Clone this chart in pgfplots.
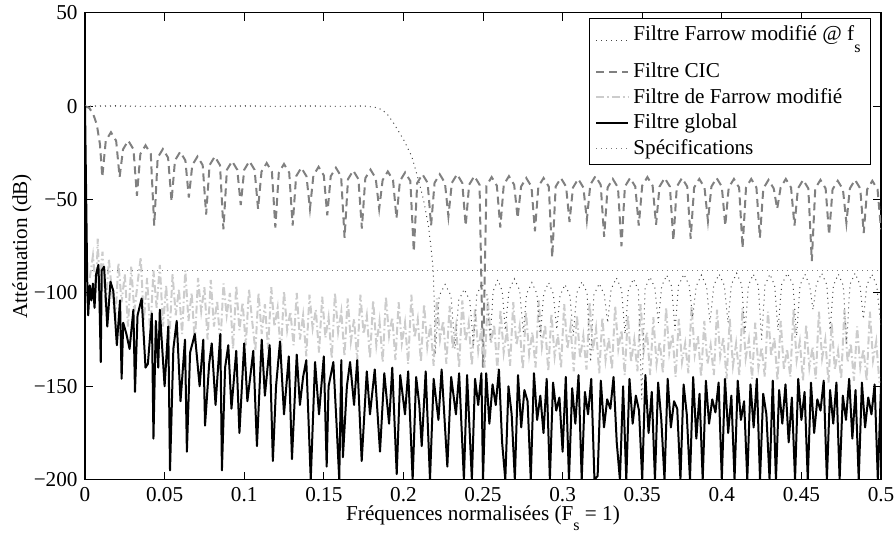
\documentclass[border=0pt]{standalone}
\usepackage{fontspec}
\setmainfont{Liberation Serif}
\usepackage{pgfplots}
\pgfplotsset{compat=1.18}
\definecolor{cicgray}{RGB}{128,128,128}
\definecolor{farlight}{RGB}{204,204,204}
\definecolor{fsgray}{RGB}{70,70,70}
\definecolor{specgray}{RGB}{120,120,120}
\tikzset{
 fsstyle/.style={color=fsgray, dotted, line width=0.5pt},
 specstyle/.style={color=specgray, dotted, line width=0.5pt},
 cicstyle/.style={color=cicgray, line width=1pt, dash pattern=on 4pt off 2.5pt},
 farstyle/.style={color=farlight, line width=1pt, dash pattern=on 4pt off 1.5pt on 0.8pt off 1.5pt},
 globalstyle/.style={color=black, line width=1pt, line join=round},
}
\begin{document}
\fontsize{10.6}{12.7}\selectfont
\begin{tikzpicture}
\begin{axis}[name=ax, scale only axis, width=398pt, height=233.5pt,
 xmin=0, xmax=0.5, ymin=-200, ymax=50,
 xtick={0,0.05,0.1,0.15,0.2,0.25,0.3,0.35,0.4,0.45,0.5},
 xticklabels={0,0.05,0.1,0.15,0.2,0.25,0.3,0.35,0.4,0.45,0.5},
 ytick={-200,-150,-100,-50,0,50},
 yticklabels={−200,−150,−100,−50,0,50},
 tick align=inside, major tick length=4pt,
 axis line style={line width=0.6pt},
 every tick/.style={black, line width=0.5pt},
 xlabel={Fréquences normalisées (F\raisebox{-5pt}{\footnotesize s} = 1)},
 ylabel={Atténuation (dB)},
 xlabel style={at={(axis description cs:0.5,0)}, anchor=base, yshift=-20.5pt},
 ylabel style={at={(axis description cs:-0.0791,0.5)}, anchor=center},
 legend image code/.code={\draw[#1] (0pt,0pt) -- (16pt,0pt);},
 legend cell align=left,
 legend style={at={(0.9874,0.9893)}, anchor=north east, draw=black, line width=0.5pt, fill=white,
   font=\fontsize{10.6}{12.7}\selectfont, inner xsep=3pt, inner ysep=1.5pt, row sep=-0.2pt},
]
% Filtre CIC
\addplot[cicstyle, forget plot] coordinates {
(0,0) (0.0027,-1) (0.0052,-4.4) (0.0074,-9.8) (0.0094,-20.5)
(0.01087,-38) (0.01304,-18.6) (0.01630,-14) (0.01957,-18.6)
(0.02174,-38) (0.02391,-23.1) (0.02717,-18.5) (0.03044,-23.1)
(0.03261,-48) (0.03478,-25.6) (0.03804,-21) (0.04131,-25.6)
(0.04348,-64) (0.04565,-27.6) (0.04891,-23) (0.05218,-27.6)
(0.05435,-51) (0.05652,-29.1) (0.05978,-24.5) (0.06305,-29.1)
(0.06522,-49) (0.06739,-31.6) (0.07065,-27) (0.07392,-31.6)
(0.07609,-58) (0.07826,-31.6) (0.08152,-27) (0.08479,-31.6)
(0.08696,-66) (0.08913,-34.1) (0.09239,-29.5) (0.09566,-34.1)
(0.09783,-53) (0.10000,-34.1) (0.10326,-29.5) (0.10653,-34.1)
(0.10870,-55) (0.11087,-35.1) (0.11413,-30.5) (0.11740,-35.1)
(0.11957,-65) (0.12174,-35.6) (0.12500,-31) (0.12827,-35.6)
(0.13043,-64) (0.13260,-37.6) (0.13586,-33) (0.13913,-37.6)
(0.14130,-55) (0.14347,-37.1) (0.14673,-32.5) (0.15000,-37.1)
(0.15217,-58.5) (0.15434,-37.6) (0.15760,-33) (0.16087,-37.6)
(0.16304,-70.5) (0.16521,-39.1) (0.16847,-34.5) (0.17174,-39.1)
(0.17391,-65.5) (0.17608,-38.6) (0.17934,-34) (0.18261,-38.6)
(0.18478,-55) (0.18695,-39.6) (0.19021,-35) (0.19348,-39.6)
(0.19565,-60) (0.19782,-40.1) (0.20108,-35.5) (0.20435,-40.1)
(0.20652,-78) (0.20869,-41.1) (0.21195,-36.5) (0.21522,-41.1)
(0.21739,-64) (0.21956,-41.1) (0.22282,-36.5) (0.22609,-41.1)
(0.22826,-59) (0.23043,-41.1) (0.23369,-36.5) (0.23696,-41.1)
(0.23913,-64) (0.24130,-42.1) (0.24456,-37.5) (0.24783,-42.1)
(0.25000,-140) (0.25217,-42.6) (0.25543,-38) (0.25870,-42.6)
(0.26087,-65) (0.26304,-42.1) (0.26630,-37.5) (0.26957,-42.1)
(0.27174,-60) (0.27391,-43.1) (0.27717,-38.5) (0.28044,-43.1)
(0.28261,-67) (0.28478,-43.1) (0.28804,-38.5) (0.29131,-43.1)
(0.29348,-81) (0.29565,-43.1) (0.29891,-38.5) (0.30218,-43.1)
(0.30435,-62) (0.30652,-43.6) (0.30978,-39) (0.31305,-43.6)
(0.31522,-61) (0.31739,-42.1) (0.32065,-37.5) (0.32392,-42.1)
(0.32609,-70) (0.32826,-43.6) (0.33152,-39) (0.33479,-43.6)
(0.33696,-75) (0.33913,-43.1) (0.34239,-38.5) (0.34566,-43.1)
(0.34783,-64) (0.35000,-42.6) (0.35326,-38) (0.35653,-42.6)
(0.35870,-63.5) (0.36087,-43.1) (0.36413,-38.5) (0.36740,-43.1)
(0.36957,-72) (0.37174,-43.1) (0.37500,-38.5) (0.37827,-43.1)
(0.38043,-71) (0.38260,-43.6) (0.38586,-39) (0.38913,-43.6)
(0.39130,-61.5) (0.39347,-43.1) (0.39673,-38.5) (0.40000,-43.1)
(0.40217,-64) (0.40434,-43.6) (0.40760,-39) (0.41087,-43.6)
(0.41304,-76) (0.41521,-43.6) (0.41847,-39) (0.42174,-43.6)
(0.42391,-70.5) (0.42608,-44.1) (0.42934,-39.5) (0.43261,-44.1)
(0.43478,-55) (0.43695,-43.6) (0.44021,-39) (0.44348,-43.6)
(0.44565,-64) (0.44782,-44.1) (0.45108,-39.5) (0.45435,-44.1)
(0.45652,-83) (0.45869,-44.1) (0.46195,-39.5) (0.46522,-44.1)
(0.46739,-69) (0.46956,-44.6) (0.47282,-40) (0.47609,-44.6)
(0.47826,-62.5) (0.48043,-44.1) (0.48369,-39.5) (0.48696,-44.1)
(0.48913,-68) (0.49130,-44.6) (0.49456,-40) (0.49783,-44.6)
(0.5,-66)
};
% Filtre de Farrow modifie
\addplot[farstyle, forget plot] coordinates {
(0.003,-92) (0.005,-80) (0.007,-100) (0.008,-71) (0.009,-95) (0.011,-78) (0.013,-108) (0.015,-82)
(0.017,-100) (0.019,-115) (0.021,-84) (0.023,-105) (0.025,-90) (0.027,-118) (0.029,-86) (0.031,-110)
(0.033,-95) (0.035,-81) (0.037,-115) (0.039,-92) (0.041,-122) (0.043,-88) (0.045,-108) (0.047,-85)
(0.049,-118) (0.051,-96) (0.053,-125) (0.055,-90) (0.057,-112) (0.059,-98) (0.061,-122) (0.063,-88)
(0.065,-115) (0.067,-100) (0.069,-127) (0.071,-92) (0.073,-110) (0.075,-97) (0.077,-125) (0.079,-93)
(0.081,-118) (0.083,-104) (0.085,-128) (0.087,-95) (0.089,-112) (0.091,-100) (0.093,-130) (0.095,-96)
(0.097,-120) (0.099,-105) (0.101,-128) (0.103,-98) (0.105,-115) (0.107,-131) (0.109,-100) (0.111,-122)
(0.113,-106) (0.115,-130) (0.117,-97) (0.119,-118) (0.121,-108) (0.123,-133) (0.125,-99) (0.127,-120)
(0.129,-110) (0.131,-128) (0.133,-100) (0.135,-125) (0.137,-112) (0.139,-134) (0.141,-101) (0.143,-119)
(0.145,-109) (0.147,-132) (0.149,-102) (0.151,-124) (0.153,-113) (0.155,-135) (0.157,-100) (0.159,-121)
(0.161,-110) (0.163,-134) (0.165,-103) (0.167,-126) (0.169,-114) (0.171,-136) (0.173,-101) (0.175,-122)
(0.177,-112) (0.179,-135) (0.181,-104) (0.183,-128) (0.185,-115) (0.187,-137) (0.189,-102) (0.191,-123)
(0.193,-113) (0.195,-136) (0.197,-105) (0.199,-127) (0.201,-116) (0.203,-138) (0.205,-101) (0.207,-124)
(0.209,-114) (0.211,-137) (0.213,-106) (0.215,-129) (0.217,-117) (0.219,-139) (0.221,-103) (0.223,-125)
(0.225,-115) (0.227,-138) (0.229,-107) (0.231,-130) (0.233,-118) (0.235,-140) (0.237,-104) (0.239,-126)
(0.241,-116) (0.243,-139) (0.245,-108) (0.247,-131) (0.249,-119) (0.251,-140) (0.253,-103) (0.255,-127)
(0.257,-117) (0.259,-141) (0.261,-109) (0.263,-132) (0.265,-120) (0.267,-139) (0.269,-105) (0.271,-128)
(0.273,-118) (0.275,-141) (0.277,-110) (0.279,-133) (0.281,-121) (0.283,-140) (0.285,-104) (0.287,-129)
(0.289,-117) (0.291,-142) (0.293,-111) (0.295,-134) (0.297,-122) (0.299,-140) (0.301,-106) (0.303,-130)
(0.305,-118) (0.307,-142) (0.309,-112) (0.311,-135) (0.313,-123) (0.315,-141) (0.317,-105) (0.319,-131)
(0.321,-119) (0.323,-143) (0.325,-113) (0.327,-136) (0.329,-124) (0.331,-141) (0.333,-107) (0.335,-130)
(0.337,-120) (0.339,-144) (0.341,-112) (0.343,-137) (0.345,-125) (0.347,-142) (0.349,-106) (0.351,-131)
(0.353,-121) (0.355,-144) (0.357,-113) (0.359,-138) (0.361,-126) (0.363,-143) (0.365,-108) (0.367,-132)
(0.369,-122) (0.371,-145) (0.373,-114) (0.375,-137) (0.377,-127) (0.379,-143) (0.381,-107) (0.383,-133)
(0.385,-123) (0.387,-145) (0.389,-115) (0.391,-138) (0.393,-128) (0.395,-144) (0.397,-109) (0.399,-134)
(0.401,-124) (0.403,-146) (0.405,-114) (0.407,-139) (0.409,-127) (0.411,-144) (0.413,-108) (0.415,-135)
(0.417,-125) (0.419,-146) (0.421,-116) (0.423,-140) (0.425,-129) (0.427,-145) (0.429,-110) (0.431,-134)
(0.433,-124) (0.435,-147) (0.437,-115) (0.439,-141) (0.441,-130) (0.443,-145) (0.445,-109) (0.447,-136)
(0.449,-126) (0.451,-147) (0.453,-117) (0.455,-140) (0.457,-129) (0.459,-146) (0.461,-110) (0.463,-135)
(0.465,-125) (0.467,-148) (0.469,-116) (0.471,-141) (0.473,-131) (0.475,-146) (0.477,-109) (0.479,-137)
(0.481,-127) (0.483,-147) (0.485,-118) (0.487,-140) (0.489,-130) (0.491,-147) (0.493,-110) (0.495,-136)
(0.497,-126) (0.499,-148)
};
% Filtre Farrow modifie @ fs
\addplot[fsstyle, forget plot] coordinates {
(0,0) (0.02,0.2) (0.04,-0.2) (0.06,0.2) (0.08,-0.2) (0.1,0.2) (0.12,-0.2) (0.14,0.2) (0.16,-0.2)
(0.175,0.1) (0.182,-0.6) (0.1864,-1.8) (0.19,-4.5) (0.1937,-8.9) (0.2,-17.8) (0.2052,-26.8)
(0.2094,-39.3) (0.2126,-50) (0.2157,-64) (0.2177,-78.4) (0.2188,-89) (0.2195,-110) (0.2200,-133)
(0.2225,-101.5) (0.2262,-95.5) (0.2299,-101.5) (0.2324,-130)
(0.2347,-104) (0.2382,-98) (0.2417,-104) (0.2440,-128)
(0.2461,-101) (0.2493,-95) (0.2524,-101) (0.2545,-125)
(0.2564,-99) (0.2593,-93) (0.2621,-99) (0.2640,-120)
(0.2663,-98.5) (0.2697,-92.5) (0.2730,-98.5) (0.2753,-121)
(0.2774,-100.5) (0.2807,-94.5) (0.2839,-100.5) (0.2860,-123)
(0.2881,-100.5) (0.2912,-94.5) (0.2942,-100.5) (0.2963,-119.6)
(0.2984,-101.5) (0.3015,-95.5) (0.3046,-101.5) (0.3067,-123)
(0.3089,-100) (0.3122,-94) (0.3154,-100) (0.3176,-137)
(0.3197,-101) (0.3230,-95) (0.3262,-101) (0.3283,-116)
(0.3305,-98) (0.3338,-92) (0.3370,-98) (0.3392,-122)
(0.3413,-98.5) (0.3445,-92.5) (0.3476,-98.5) (0.3497,-157)
(0.3518,-97.5) (0.3549,-91.5) (0.3580,-97.5) (0.3601,-116)
(0.3622,-96.5) (0.3654,-90.5) (0.3685,-96.5) (0.3706,-120)
(0.3728,-96) (0.3762,-90) (0.3795,-96) (0.3817,-113)
(0.3839,-96.5) (0.3872,-90.5) (0.3904,-96.5) (0.3926,-116)
(0.3949,-96) (0.3983,-90) (0.4016,-96) (0.4039,-116)
(0.4060,-95.5) (0.4093,-89.5) (0.4125,-95.5) (0.4146,-121)
(0.4167,-96) (0.4198,-90) (0.4229,-96) (0.4250,-125)
(0.4271,-96) (0.4302,-90) (0.4332,-96) (0.4353,-120)
(0.4376,-95.5) (0.4412,-89.5) (0.4447,-95.5) (0.4470,-123)
(0.4491,-96) (0.4522,-90) (0.4552,-96) (0.4573,-109)
(0.4594,-95.5) (0.4627,-89.5) (0.4659,-95.5) (0.4680,-120)
(0.4701,-96) (0.4732,-90) (0.4763,-96) (0.4784,-127)
(0.4805,-95.5) (0.4837,-89.5) (0.4868,-95.5) (0.4889,-114)
(0.4910,-96) (0.4942,-90) (0.4973,-96) (0.5,-118)
};
% Specifications
\addplot[specstyle, forget plot] coordinates {(0,0) (0.18,0)};
\addplot[specstyle, forget plot] coordinates {(0.0045,-88) (0.5,-88)};
% Filtre global
\addplot[globalstyle, forget plot] coordinates {
(0,0) (0.0015,-100) (0.002,-112) (0.003,-96) (0.004,-104) (0.005,-95) (0.006,-108) (0.007,-90)
(0.0084,-85) (0.009,-100) (0.0099,-137) (0.0105,-88) (0.012,-86) (0.014,-118) (0.016,-94) (0.0178,-99)
(0.020,-128) (0.022,-104) (0.023,-146) (0.024,-116) (0.026,-122) (0.028,-130) (0.0304,-109) (0.0314,-153)
(0.033,-112) (0.0356,-103) (0.038,-140) (0.0395,-138) (0.042,-111) (0.043,-178) (0.0445,-115) (0.046,-140)
(0.047,-109) (0.050,-150) (0.0523,-118) (0.0534,-195) (0.0555,-130) (0.0576,-115) (0.060,-158) (0.0628,-125)
(0.064,-185) (0.066,-132) (0.069,-122) (0.072,-150) (0.0743,-125) (0.0754,-171) (0.078,-138) (0.0796,-127)
(0.082,-160) (0.085,-122) (0.086,-195) (0.088,-140) (0.090,-128) (0.092,-162) (0.095,-131) (0.097,-175)
(0.100,-127) (0.102,-158) (0.1057,-131) (0.108,-182) (0.111,-125) (0.113,-155) (0.116,-128) (0.118,-190)
(0.120,-150) (0.1225,-126) (0.125,-165) (0.128,-134) (0.130,-189) (0.133,-133) (0.135,-160) (0.137,-145)
(0.139,-136) (0.1418,-200) (0.1445,-137) (0.147,-165) (0.150,-134) (0.1518,-193) (0.153,-150) (0.156,-137)
(0.158,-170) (0.1597,-200) (0.161,-136) (0.162,-188) (0.1645,-150) (0.1665,-137) (0.169,-160) (0.171,-136)
(0.1738,-190) (0.177,-142) (0.179,-165) (0.182,-141) (0.1853,-185) (0.188,-143) (0.191,-170) (0.193,-140)
(0.1958,-197) (0.198,-144) (0.201,-165) (0.203,-142) (0.2058,-200) (0.208,-145) (0.210,-160) (0.2115,-182)
(0.214,-142) (0.2167,-200) (0.219,-146) (0.222,-168) (0.224,-141) (0.2276,-193) (0.230,-145) (0.233,-165)
(0.235,-143) (0.238,-200) (0.240,-144) (0.243,-200) (0.245,-146) (0.247,-160) (0.249,-143) (0.250,-200)
(0.252,-143) (0.254,-170) (0.256,-149) (0.258,-160) (0.260,-141) (0.262,-180) (0.264,-200) (0.266,-150)
(0.268,-165) (0.270,-200) (0.272,-144) (0.274,-172) (0.276,-152) (0.278,-158) (0.280,-200) (0.282,-143)
(0.284,-168) (0.286,-155) (0.288,-175) (0.290,-146) (0.292,-200) (0.294,-148) (0.296,-163) (0.298,-156)
(0.300,-185) (0.302,-145) (0.304,-200) (0.306,-151) (0.308,-170) (0.310,-144) (0.312,-200) (0.314,-153)
(0.316,-165) (0.318,-146) (0.320,-200) (0.322,-198) (0.324,-147) (0.326,-172) (0.328,-157) (0.330,-162)
(0.332,-145) (0.334,-180) (0.336,-200) (0.338,-150) (0.340,-200) (0.342,-146) (0.344,-170) (0.346,-155)
(0.348,-163) (0.350,-200) (0.352,-144) (0.354,-175) (0.356,-153) (0.358,-200) (0.360,-148) (0.362,-168)
(0.364,-200) (0.366,-146) (0.368,-172) (0.370,-158) (0.372,-162) (0.374,-200) (0.376,-149) (0.378,-165)
(0.380,-200) (0.382,-145) (0.384,-178) (0.386,-154) (0.388,-200) (0.390,-147) (0.392,-170) (0.394,-157)
(0.396,-164) (0.398,-148) (0.400,-200) (0.402,-146) (0.404,-175) (0.406,-155) (0.408,-200) (0.410,-147)
(0.412,-168) (0.414,-158) (0.416,-200) (0.418,-149) (0.420,-172) (0.422,-146) (0.424,-200) (0.426,-154)
(0.428,-165) (0.430,-200) (0.432,-147) (0.434,-200) (0.436,-152) (0.438,-170) (0.440,-149) (0.442,-180)
(0.444,-156) (0.446,-200) (0.448,-146) (0.450,-168) (0.452,-153) (0.454,-200) (0.456,-148) (0.458,-175)
(0.460,-157) (0.462,-163) (0.464,-147) (0.466,-200) (0.468,-152) (0.470,-170) (0.472,-148) (0.474,-200)
(0.476,-155) (0.478,-168) (0.480,-146) (0.482,-178) (0.484,-152) (0.486,-200) (0.488,-148) (0.490,-172)
(0.492,-156) (0.494,-165) (0.496,-149) (0.498,-200) (0.500,-150)
};
\addlegendimage{fsstyle}
\addlegendentry{\raisebox{6pt}{Filtre Farrow modifié @ f\raisebox{-6pt}{\footnotesize s}}}
\addlegendimage{cicstyle}
\addlegendentry{Filtre CIC}
\addlegendimage{farstyle}
\addlegendentry{Filtre de Farrow modifié}
\addlegendimage{globalstyle}
\addlegendentry{Filtre global}
\addlegendimage{specstyle}
\addlegendentry{Spécifications}
\end{axis}
\pgfresetboundingbox
\path[use as bounding box] ([xshift=-42.5pt,yshift=-27pt]ax.south west) rectangle ([xshift=7pt,yshift=6.35pt]ax.north east);
\end{tikzpicture}
\end{document}
